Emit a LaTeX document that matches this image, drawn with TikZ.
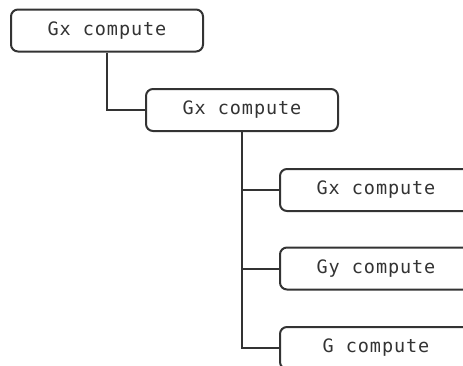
\documentclass[tikz,border=0pt]{standalone}
\usepackage{fontspec}
\newfontfamily\codefont{DejaVu Sans Mono}[LetterSpace=5]
\colorlet{ink}{black!80}
\tikzset{
  fnbox/.style={draw=ink,line width=2pt,rounded corners=7pt,minimum width=192pt,
    minimum height=42pt,inner sep=0pt,text=ink,font=\codefont\fontsize{18.5}{22}\selectfont},
  link/.style={draw=ink,line width=2pt}
}
\begin{document}
\begin{tikzpicture}[x=1pt,y=-1pt]
\useasboundingbox (0,0) rectangle (463,365);
\clip (0,0) rectangle (463,365);

\node[fnbox] (gx0) at (107,30.5) {Gx compute};
\node[fnbox] (gx1) at (242,110) {Gx compute};
\node[fnbox] (gx2) at (376,190) {Gx compute};
\node[fnbox] (gy2) at (376,268.5) {Gy compute};
\node[fnbox] (g2) at (376,348) {G compute};

\draw[link] (gx0.south) |- (gx1.west);
\draw[link] (gx1.south) |- (g2.west)
  (gx1.south |- gx2.west) -- (gx2.west)
  (gx1.south |- gy2.west) -- (gy2.west);
\end{tikzpicture}
\end{document}
